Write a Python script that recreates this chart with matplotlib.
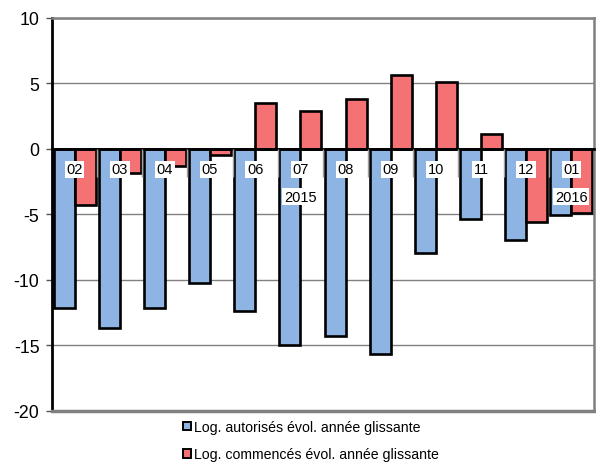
import matplotlib
matplotlib.use("Agg")
import matplotlib.pyplot as plt
import numpy as np
from matplotlib.patches import Patch

plt.rcParams['font.family'] = ['Liberation Sans', 'DejaVu Sans']

months = ["02", "03", "04", "05", "06", "07", "08", "09", "10", "11", "12", "01"]
year_labels = {5: "2015", 11: "2016"}
autorises = [-12.2, -13.7, -12.2, -10.3, -12.4, -15.0, -14.3, -15.7, -8.0, -5.4, -7.0, -5.1]
commences = [-4.3, -1.9, -1.3, -0.5, 3.5, 2.9, 3.8, 5.6, 5.1, 1.1, -5.6, -4.9]
label_a = "Log. autorisés évol. année glissante"
label_c = "Log. commencés évol. année glissante"
yticks = [10, 5, 0, -5, -10, -15, -20]

blue = "#8DB4E2"
red = "#F47174"

fig = plt.figure(figsize=(5.96, 4.64), dpi=100)
ax = fig.add_axes([0.0872, 0.1131, 0.9094, 0.8469])

x = np.arange(len(months))
w = 0.465
ax.bar(x - w / 2, autorises, w, color=blue, edgecolor="black", linewidth=1.9, zorder=2)
ax.bar(x + w / 2, commences, w, color=red, edgecolor="black", linewidth=1.9, zorder=2)

ax.set_xlim(-0.5, len(months) - 0.5)
ax.set_ylim(-20, 10)
ax.set_yticks(yticks)
ax.set_yticklabels([str(v) for v in yticks], fontsize=12.8)
ax.yaxis.grid(True, color="#808080", linewidth=1.0)
ax.set_axisbelow(True)

# x axis at zero
ax.spines['bottom'].set_position(('data', 0))
ax.spines['bottom'].set_color('black')
ax.spines['bottom'].set_linewidth(2.0)
ax.spines['bottom'].set_zorder(3)
ax.spines['left'].set_color('black')
ax.spines['left'].set_linewidth(2.0)
ax.spines['top'].set_color('#808080')
ax.spines['top'].set_linewidth(1.8)
ax.spines['right'].set_color('#808080')
ax.spines['right'].set_linewidth(1.8)
ax.axhline(-20, color='#808080', linewidth=2.5, zorder=3, clip_on=False)

ax.set_xticks(x)
ax.set_xticklabels(months, fontsize=10.5)
ax.set_xticks(np.arange(0.5, len(months) - 1, 1.0), minor=True)
ax.tick_params(axis='x', which='major', length=0, pad=10)
ax.tick_params(axis='x', which='minor', length=20, color='#A0A0A0', width=1.0, direction='out')
ax.tick_params(axis='y', length=4, color='#555555', width=1.0, pad=5)
ax.xaxis.set_zorder(4)
for lbl in ax.get_xticklabels():
    lbl.set_bbox(dict(facecolor='white', edgecolor='none', pad=1.2))

for i, yl in year_labels.items():
    ax.annotate(yl, xy=(x[i], 0), xytext=(0, -48), textcoords='offset pixels',
                ha='center', va='center', fontsize=10.5, zorder=5,
                bbox=dict(facecolor='white', edgecolor='none', pad=1.2))

handles = [Patch(facecolor=blue, edgecolor='black', linewidth=1.4, label=label_a),
           Patch(facecolor=red, edgecolor='black', linewidth=1.4, label=label_c)]
fig.legend(handles=handles, loc='upper left', bbox_to_anchor=(0.295, 0.108),
           frameon=False, fontsize=10.2, handlelength=0.55, handleheight=0.55,
           handletextpad=0.2, labelspacing=0.95, borderpad=0)

fig.savefig("out.png", dpi=100)
